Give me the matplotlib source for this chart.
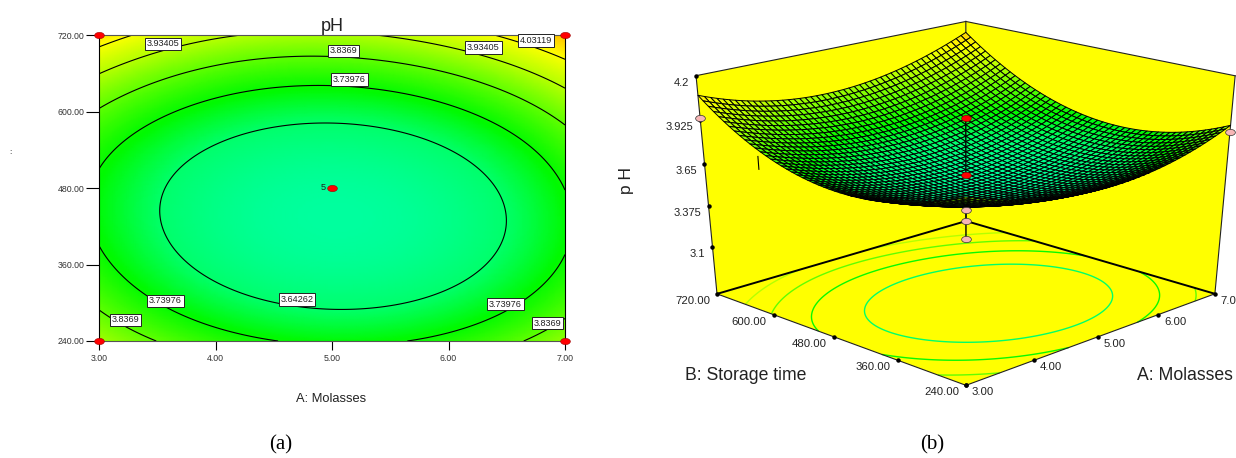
import numpy as np
import matplotlib
matplotlib.use('Agg')
import matplotlib.pyplot as plt
from matplotlib.colors import LinearSegmentedColormap, Normalize
from matplotlib.path import Path
from matplotlib.transforms import Affine2D
from mpl_toolkits.mplot3d import proj3d
from mpl_toolkits.mplot3d.art3d import Poly3DCollection

W, H = 1236, 458
plt.rcParams['font.family'] = ['Liberation Sans', 'DejaVu Sans']

# values
molasses = [3, 4, 5, 6, 7]
storage = [240, 360, 480, 600, 720]
ph_240 = [3.91, 3.79, 3.71, 3.775, 3.89]
ph_360 = [3.76, 3.62, 3.56, 3.61, 3.755]
ph_480 = [3.725, 3.60, 3.55, 3.60, 3.73]
ph_600 = [3.83, 3.71, 3.66, 3.725, 3.875]
ph_720 = [4.08, 3.95, 3.92, 3.985, 4.125]

contour_levels = [3.64262, 3.73976, 3.8369, 3.93405, 4.03119]
contour_text = ['3.93405', '3.8369', '3.73976', '3.93405', '4.03119',
                '3.73976', '3.8369', '3.64262', '3.73976', '3.8369']
label_a = [3.55, 5.10, 5.15, 6.30, 6.75, 3.57, 3.23, 4.70, 6.49, 6.85]
label_b = [706, 695, 650, 700, 711, 303, 273, 305, 298, 268]

design_a = [3, 3, 7, 7]
design_b = [240, 720, 240, 720]
center_a = 5
center_b = 480
center_above = [3.94, 3.575]
center_below = [3.35, 3.27, 3.15]
side_a = [3, 7]
side_b = [720, 240]
side_ph = [3.94, 3.85]
stub_a = [3, 3]
stub_b = [608, 608]
stub_ph = [3.72, 3.80]

a_ticks = [3, 4, 5, 6, 7]
b_ticks = [240, 360, 480, 600, 720]
ph_ticks = [3.1, 3.375, 3.65, 3.925, 4.2]
ph_floor = 2.77

# box corners and where they land on the canvas (pixels), for the 3D camera
box_corners = [(3, 240, ph_floor), (3, 720, ph_floor), (7, 240, ph_floor), (7, 720, ph_floor),
               (3, 720, 4.2), (7, 240, 4.2), (7, 720, 4.2)]
box_pixels = [(966, 386), (717, 293), (1215, 293), (966, 222), (696, 76), (1235, 76), (966, 21)]

# smooth the read grid so contours are not angular
grid = np.array([ph_240, ph_360, ph_480, ph_600, ph_720])
gA, gB = np.meshgrid(molasses, storage)
vander = np.polynomial.polynomial.polyvander2d((gA.ravel() - 5) / 2, (gB.ravel() - 480) / 240, [3, 3])
coef = np.linalg.lstsq(vander, grid.ravel(), rcond=None)[0]


def surface(A, B):
    v = np.polynomial.polynomial.polyvander2d((A - 5) / 2, (B - 480) / 240, [3, 3])
    return v @ coef


def camera_matrix():
    # solve a 3x4 camera from the corner pairs, the original has a keystoned view
    # that view_init cannot give. Output is in the 2D units of the square 3D axes.
    T = np.array([[1 / 4, 0, 0, -3 / 4], [0, 1 / 480, 0, -0.5],
                  [0, 0, 1 / (4.2 - ph_floor), -ph_floor / (4.2 - ph_floor)], [0, 0, 0, 1]])
    rows = []
    for corner, (px, py) in zip(box_corners, box_pixels):
        X = T @ np.array([*corner, 1])
        x2 = -0.095 + 0.185 * px / W
        y2 = -0.095 + 0.185 * (H - py + (W - H) / 2) / W
        rows.append(np.r_[X, 0, 0, 0, 0, -x2 * X])
        rows.append(np.r_[0, 0, 0, 0, X, -y2 * X])
    P = np.linalg.svd(np.array(rows))[2][-1].reshape(3, 4) @ T
    # w has to be positive and grow away from the viewer
    back = P[2] @ np.array([7, 720, ph_floor, 1])
    P = P * np.sign(back)
    return np.array([P[0], P[1], [0, 0, 0, -1], P[2]])


norm = Normalize(3.54, 4.2)
anchors = [(3.54, (0, 1, 0.62)), (3.64, (0, 1, 0.42)), (3.73, (0, 0.98, 0)), (3.85, (0.42, 1, 0)),
           (3.93, (0.7, 1, 0)), (4.04, (1, 1, 0)), (4.125, (1, 0.75, 0)), (4.2, (1, 0.55, 0))]
cmap = LinearSegmentedColormap.from_list('ph', [(norm(v), c) for v, c in anchors])

oval = Path.unit_circle().transformed(Affine2D().scale(1.55, 1))

fig = plt.figure(figsize=(W / 100, H / 100), dpi=100)

# (a) contour plot
ax = fig.add_axes([99 / W, 1 - 341 / H, 466 / W, 306 / H])
fine_a, fine_b = np.meshgrid(np.linspace(3, 7, 200), np.linspace(240, 720, 200))
fine_ph = surface(fine_a, fine_b)
ax.pcolormesh(fine_a, fine_b, fine_ph, cmap=cmap, norm=norm, shading='gouraud', rasterized=True)
ax.contour(fine_a, fine_b, fine_ph, levels=contour_levels, colors='k', linewidths=0.8)
for txt, a, b in zip(contour_text, label_a, label_b):
    ax.text(a, b, txt, fontsize=6.6, ha='center', va='center', zorder=6, color='#222222',
            bbox=dict(boxstyle='square,pad=0.2', fc='white', ec='#222222', lw=0.7))
ax.plot(design_a, design_b, ls='none', marker=oval, ms=7, mfc='red', mec='#990000', mew=0.4,
        clip_on=False, zorder=7)
ax.plot([center_a], [center_b], ls='none', marker=oval, ms=7, mfc='red', mec='#990000', mew=0.4, zorder=7)
ax.text(center_a - 0.05, center_b, '5', fontsize=6.6, ha='right', va='center', color='#222222')
ax.set_xlim(3, 7)
ax.set_ylim(240, 720)
ax.set_xticks(a_ticks, [f'{t:.2f}' for t in a_ticks])
ax.set_yticks(b_ticks, [f'{t:.2f}' for t in b_ticks])
ax.tick_params(axis='x', length=6.5, width=0.8, labelsize=6.3, pad=3, labelcolor='#333333')
ax.tick_params(axis='y', length=9.5, width=0.8, labelsize=6.3, pad=1, labelcolor='#333333')
for spine in ['top', 'bottom']:
    ax.spines[spine].set_color('#555555')
ax.set_title('pH', fontsize=13, pad=2, color='#222222')
fig.text(331 / W, 1 - 399 / H, 'A: Molasses', fontsize=9.3, ha='center', va='center', color='#222222')
fig.text(10 / W, 1 - 153 / H, ':', fontsize=6, ha='center', va='center')

# (b) response surface, square axes as wide as the figure
ax3 = fig.add_axes([0, (H - W) / (2 * H), 1, W / H], projection='3d', computed_zorder=False)
ax3.set_axis_off()
ax3.patch.set_visible(False)
cam = camera_matrix()
ax3.get_proj = lambda: cam

walls = [[(3, 720, ph_floor), (7, 720, ph_floor), (7, 720, 4.2), (3, 720, 4.2)],
         [(7, 720, ph_floor), (7, 240, ph_floor), (7, 240, 4.2), (7, 720, 4.2)],
         [(3, 240, ph_floor), (7, 240, ph_floor), (7, 720, ph_floor), (3, 720, ph_floor)]]
panes = Poly3DCollection(walls, facecolors='#ffff00', edgecolors='none', zorder=1)
ax3.add_collection3d(panes)

floor = ax3.contour(fine_a, fine_b, fine_ph, levels=contour_levels, cmap=cmap, norm=norm,
                    offset=ph_floor, zdir='z', linewidths=1, zorder=2)

edges_thick = [((3, 720, ph_floor), (7, 720, ph_floor)), ((7, 720, ph_floor), (7, 240, ph_floor))]
edges_thin = [((3, 240, ph_floor), (7, 240, ph_floor)), ((3, 240, ph_floor), (3, 720, ph_floor)),
              ((3, 720, ph_floor), (3, 720, 4.2)), ((7, 240, ph_floor), (7, 240, 4.2)),
              ((3, 720, 4.2), (7, 720, 4.2)), ((7, 720, 4.2), (7, 240, 4.2)),
              ((7, 720, ph_floor), (7, 720, 4.2))]
for p, q in edges_thick:
    ax3.plot(*zip(p, q), color='k', lw=1.4, zorder=3)
for p, q in edges_thin:
    ax3.plot(*zip(p, q), color='#222222', lw=0.8, zorder=3)

mesh_a, mesh_b = np.meshgrid(np.linspace(3, 7, 50), np.linspace(240, 720, 50))
mesh_ph = surface(mesh_a, mesh_b)
mesh = ax3.plot_surface(mesh_a, mesh_b, mesh_ph, facecolors=cmap(norm(mesh_ph)), rstride=1, cstride=1,
                        edgecolor='k', linewidth=0.7, shade=False, zorder=4)

# tick dots
ax3.plot([3] * 5, [720] * 5, ph_ticks, ls='none', marker='o', ms=2.2, color='k', zorder=5)
ax3.plot(a_ticks, [240] * 5, [ph_floor] * 5, ls='none', marker='o', ms=2.2, color='k', zorder=5)
ax3.plot([3] * 5, b_ticks, [ph_floor] * 5, ls='none', marker='o', ms=2.2, color='k', zorder=5)

ax3.plot(stub_a, stub_b, stub_ph, color='k', lw=0.8, zorder=5)
ax3.plot([center_a] * 2, [center_b] * 2, center_above, color='k', lw=1, zorder=5)
ax3.plot([center_a] * 2, [center_b] * 2, [center_below[0], center_below[-1]], color='k', lw=1, zorder=5)
ax3.plot([center_a] * 2, [center_b] * 2, center_above, ls='none', marker=oval, ms=7, mfc='red',
         mec='#660000', mew=0.4, zorder=6)
ax3.plot([center_a] * 3, [center_b] * 3, center_below, ls='none', marker=oval, ms=7, mfc='#f7b6b6',
         mec='#333333', mew=0.5, zorder=6)
ax3.plot(side_a, side_b, side_ph, ls='none', marker=oval, ms=7, mfc='#f7b6b6',
         mec='#333333', mew=0.5, zorder=6)


def tick_label(a, b, ph, txt, size, dx, ha):
    x, y, _ = proj3d.proj_transform(a, b, ph, cam)
    ax3.annotate(txt, (x, y), xytext=(dx, -7), textcoords='offset pixels', fontsize=size,
                 ha=ha, va='center', color='#222222')


for t in ph_ticks:
    tick_label(3, 720, t, f'{t:g}', 8, -7, 'right')
for t in b_ticks:
    tick_label(3, t, ph_floor, f'{t:.2f}', 8.2, -7, 'right')
for t in a_ticks:
    tick_label(t, 240, ph_floor, f'{t:.2f}', 8.2, 6, 'left')

fig.text(746 / W, 1 - 376 / H, 'B: Storage time', fontsize=12.7, ha='center', va='center', color='#222222')
fig.text(1185 / W, 1 - 376 / H, 'A: Molasses', fontsize=12.7, ha='center', va='center', color='#222222')
fig.text(627 / W, 1 - 181 / H, 'p H', fontsize=12.5, rotation=90, ha='center', va='center', color='#222222')

fig.text(281 / W, 1 - 445 / H, '(a)', fontsize=15, family='Liberation Serif', ha='center', va='center')
fig.text(932 / W, 1 - 445 / H, '(b)', fontsize=15, family='Liberation Serif', ha='center', va='center')

fig.savefig('out.png', dpi=100)
